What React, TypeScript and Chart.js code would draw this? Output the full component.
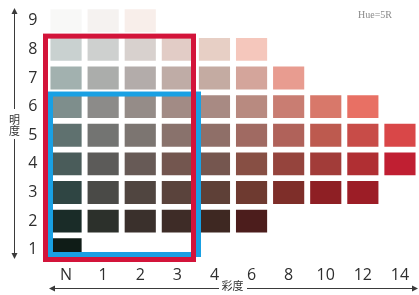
import React, { useEffect, useRef } from 'react';
import { Chart, registerables } from 'chart.js';

Chart.register(...registerables);

// Munsell chroma (x) categories and value (y) ticks, Hue = 5R
const chromaLabels = ['N', '1', '2', '3', '4', '6', '8', '10', '12', '14'];
const valueTicks = [1, 2, 3, 4, 5, 6, 7, 8, 9];

// Cell colours for every value row, by chroma column (null = no chip)
const value9 = ['#f8f8f7', '#f5f2f0', '#f8eeea', null, null, null, null, null, null, null];
const value8 = ['#c9d1d0', '#ced0cf', '#d8d1ce', '#e2ccc6', '#e7cfc5', '#f5c7bc', null, null, null, null];
const value7 = ['#a2b1af', '#abadab', '#b3acaa', '#bfaca6', '#c4aba2', '#d4a59b', '#e89c90', null, null, null];
const value6 = ['#7e8e8c', '#8c8b89', '#958c88', '#a28b85', '#a88a83', '#b88a80', '#c97d72', '#d8786a', '#e87064', null];
const value5 = ['#5f716f', '#737472', '#7c7571', '#89726c', '#8f6f68', '#a06a62', '#b0625a', '#bd5a4f', '#c84c48', '#d94748'];
const value4 = ['#4a5c5a', '#5c5b59', '#675a56', '#73564f', '#75564f', '#874f44', '#95443d', '#a23c39', '#b02f33', '#c01f32'];
const value3 = ['#2f4543', '#4a4a47', '#504540', '#5a433c', '#5e4037', '#6e3a30', '#7e2e29', '#8e1f24', '#9c1d26', null];
const value2 = ['#1a2c28', '#2c302b', '#3a302c', '#3e2c27', '#3e2822', '#4c1d1c', null, null, null, null];
const value1 = ['#0f1c17', null, null, null, null, null, null, null, null, null];

const valueRows = [value1, value2, value3, value4, value5, value6, value7, value8, value9];

// Highlight frames: chroma index range and value range
const redFrame = { from: 0, to: 3, low: 1, high: 8 };
const blueFrame = { from: 0, to: 3, low: 1, high: 6 };

const overlayPlugin = {
  id: 'munsellOverlay',
  afterDatasetsDraw(chart: any) {
    const { ctx, scales } = chart;
    const x = scales.x;
    const y = scales.y;
    const catW = x.getPixelForValue(1) - x.getPixelForValue(0);
    const edgeL = (i: number) => x.getPixelForValue(i) - catW / 2;
    const edgeR = (i: number) => x.getPixelForValue(i) + catW / 2;
    ctx.save();
    ctx.lineWidth = 5;
    // blue frame
    {
      const l = edgeL(blueFrame.from) + 3;
      const r = edgeR(blueFrame.to) + 2.6;
      const t = y.getPixelForValue(blueFrame.high + 0.5) + 1.7;
      const b = y.getPixelForValue(blueFrame.low - 0.5) - 9.5;
      ctx.strokeStyle = '#19a0e3';
      ctx.strokeRect(l, t, r - l, b - t);
    }
    // red frame
    {
      const l = edgeL(redFrame.from) - 2;
      const r = edgeR(redFrame.to) - 2.4;
      const t = y.getPixelForValue(redFrame.high + 0.5) + 1;
      const b = y.getPixelForValue(redFrame.low - 0.5) - 4.5;
      ctx.strokeStyle = '#d3143a';
      ctx.strokeRect(l, t, r - l, b - t);
    }
    ctx.restore();
  },
  afterDraw(chart: any) {
    const { ctx, chartArea } = chart;
    ctx.save();
    ctx.strokeStyle = '#3a3a3a';
    ctx.fillStyle = '#3a3a3a';
    ctx.lineWidth = 1;
    // vertical axis arrow (明度)
    const ax = 14.5;
    const yTop = 8;
    const yBot = chartArea.bottom - 5;
    ctx.beginPath();
    ctx.moveTo(ax, yTop + 3);
    ctx.lineTo(ax, 109);
    ctx.moveTo(ax, 139);
    ctx.lineTo(ax, yBot - 3);
    ctx.stroke();
    ctx.beginPath();
    ctx.moveTo(ax, yTop);
    ctx.lineTo(ax - 3, yTop + 6);
    ctx.lineTo(ax + 3, yTop + 6);
    ctx.closePath();
    ctx.fill();
    ctx.beginPath();
    ctx.moveTo(ax, yBot);
    ctx.lineTo(ax - 3, yBot - 6);
    ctx.lineTo(ax + 3, yBot - 6);
    ctx.closePath();
    ctx.fill();
    // horizontal axis arrow (彩度)
    const ay = 288.5;
    const xL = chartArea.left + 1.5;
    const xR = 418;
    ctx.beginPath();
    ctx.moveTo(xL + 3, ay);
    ctx.lineTo(219, ay);
    ctx.moveTo(247, ay);
    ctx.lineTo(xR - 3, ay);
    ctx.stroke();
    ctx.beginPath();
    ctx.moveTo(xL, ay);
    ctx.lineTo(xL + 6, ay - 3);
    ctx.lineTo(xL + 6, ay + 3);
    ctx.closePath();
    ctx.fill();
    ctx.beginPath();
    ctx.moveTo(xR, ay);
    ctx.lineTo(xR - 6, ay - 3);
    ctx.lineTo(xR - 6, ay + 3);
    ctx.closePath();
    ctx.fill();
    // axis titles
    ctx.fillStyle = '#333333';
    ctx.font = '11px "Noto Sans CJK JP"';
    ctx.textAlign = 'center';
    ctx.textBaseline = 'middle';
    ctx.fillText('明', ax, 119.5);
    ctx.fillText('度', ax, 131);
    ctx.fillText('彩度', 232.5, 286);
    // hue note
    ctx.fillStyle = '#8a8a8a';
    ctx.font = '10px "Liberation Serif"';
    ctx.fillText('Hue=5R', 375, 15);
    ctx.restore();
  },
};

export default function App() {
  const canvasRef = useRef<HTMLCanvasElement | null>(null);

  useEffect(() => {
    if (!canvasRef.current) return;
    const datasets = valueRows.map((colors, idx) => {
      const v = valueTicks[idx];
      return {
        label: 'Value ' + v,
        data: colors.map((c) => (c ? [v - 0.4, v + 0.4] : null)) as any,
        backgroundColor: colors.map((c) => c || 'rgba(0,0,0,0)'),
        borderWidth: 0,
        grouped: false,
        categoryPercentage: 1,
        barPercentage: 0.84,
      };
    });
    const chart = new Chart(canvasRef.current, {
      type: 'bar',
      data: { labels: chromaLabels, datasets },
      options: {
        animation: false,
        responsive: true,
        maintainAspectRatio: false,
        layout: { padding: { top: 6.5, right: 0.5, left: 0, bottom: 0 } },
        plugins: { legend: { display: false }, tooltip: { enabled: false } },
        scales: {
          x: {
            type: 'category',
            grid: { display: false, drawTicks: false },
            border: { display: false },
            ticks: {
              padding: 2,
              color: '#2e2e2e',
              font: { family: '"Open Sans"', size: 16 },
            },
            afterFit: (axis: any) => {
              axis.height = 31;
              axis.paddingLeft = 0;
              axis.paddingRight = 0;
            },
          },
          y: {
            type: 'linear',
            min: 0.5,
            max: 9.5,
            grid: { display: false, drawTicks: false },
            border: { display: false },
            ticks: {
              padding: 10,
              color: '#2e2e2e',
              font: { family: '"Open Sans"', size: 16 },
            },
            afterBuildTicks: (axis: any) => {
              axis.ticks = valueTicks.map((v) => ({ value: v }));
            },
            afterFit: (axis: any) => {
              axis.width = 47.5;
              axis.paddingTop = 0;
              axis.paddingBottom = 0;
            },
          },
        },
      },
      plugins: [overlayPlugin],
    });
    return () => chart.destroy();
  }, []);

  return (
    <div style={{ position: 'absolute', left: 0, top: 0, width: 419, height: 295, background: '#ffffff' }}>
      <canvas ref={canvasRef} />
    </div>
  );
}
